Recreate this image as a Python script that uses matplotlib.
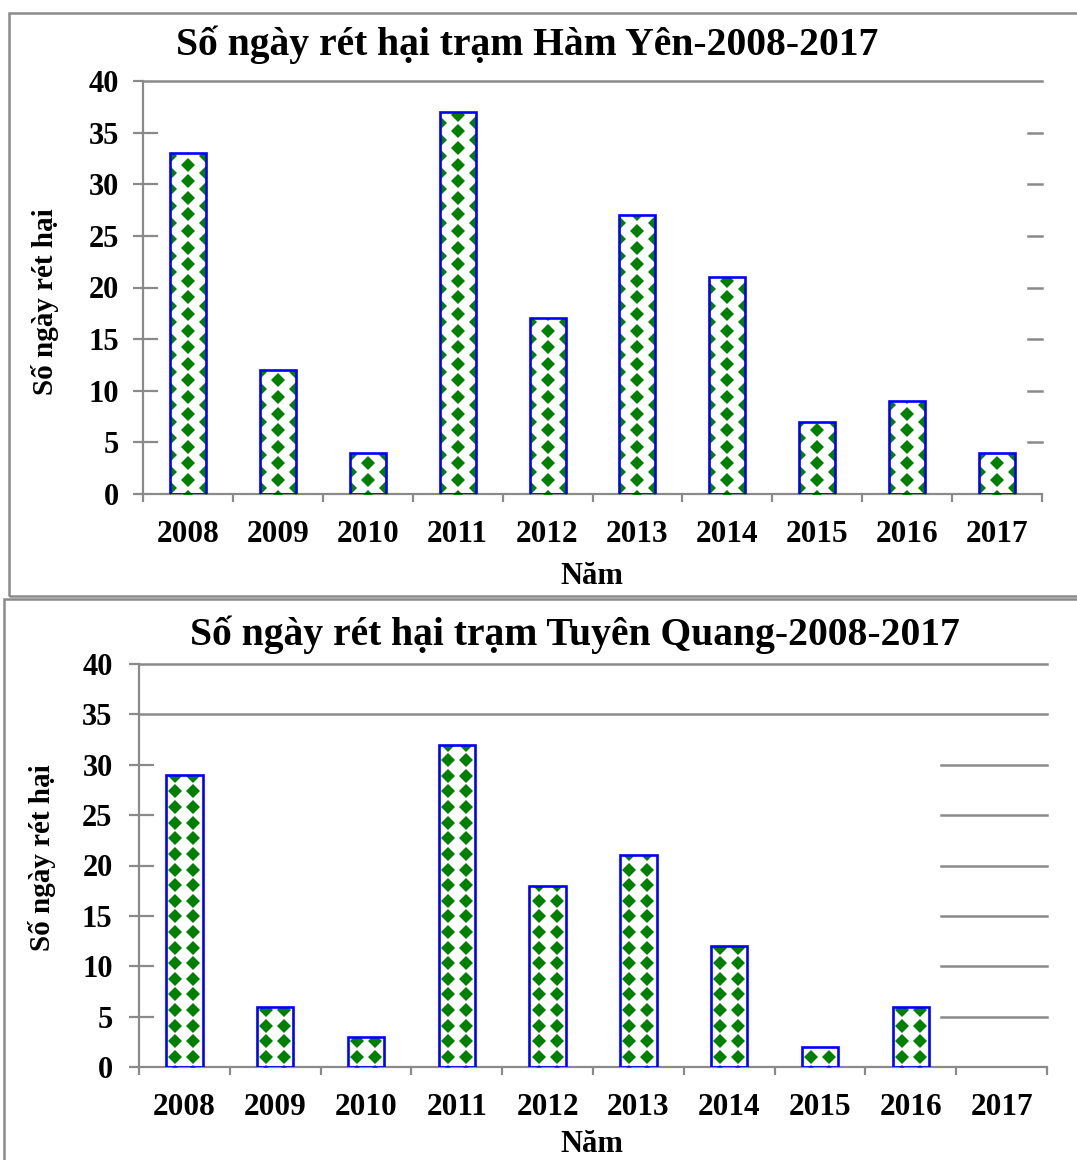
import matplotlib
matplotlib.use("Agg")
import matplotlib.pyplot as plt
import matplotlib.transforms as mtransforms
from matplotlib.patches import Rectangle
import numpy as np

plt.rcParams['font.family'] = ['Liberation Serif', 'DejaVu Serif']
plt.rcParams['font.weight'] = 'bold'

years = ['2008', '2009', '2010', '2011', '2012', '2013', '2014', '2015', '2016', '2017']
ham_yen = [33, 12, 4, 37, 17, 27, 21, 7, 9, 4]
tuyen_quang = [29, 6, 3, 32, 18, 21, 12, 2, 6, 0]
y_ticks = [0, 5, 10, 15, 20, 25, 30, 35, 40]

title_top = 'Số ngày rét hại trạm Hàm Yên-2008-2017'
title_bottom = 'Số ngày rét hại trạm Tuyên Quang-2008-2017'
y_label = 'Số ngày rét hại'
x_label = 'Năm'

W, H = 1077, 1160
DPI = 100
fig = plt.figure(figsize=(W / DPI, H / DPI), dpi=DPI)

GRAY = '#8a8a8a'
GREEN = '#008000'
BLUE = '#0000ff'


def px_axes(left, top, right, bottom):
    return fig.add_axes([left / W, (H - bottom) / H, (right - left) / W, (bottom - top) / H])


def diamond_fill(ax, bars, cols_a, cols_b, step_y, offset_a, offset_b, size):
    """Fill each bar with rows of green diamonds (offsets in pixels from the bar centre / base)."""
    fig.canvas.draw()
    inv = ax.transData.inverted()
    for bar in bars:
        h = bar.get_height()
        if h <= 0:
            continue
        x0, y0 = ax.transData.transform((bar.get_x(), 0))
        x1, y1 = ax.transData.transform((bar.get_x() + bar.get_width(), h))
        xc = (x0 + x1) / 2
        pts = []
        for cols, off in ((cols_a, offset_a), (cols_b, offset_b)):
            yy = y0 + off - step_y
            while yy <= y1 + step_y:
                for dx in cols:
                    pts.append((xc + dx, yy))
                yy += step_y
        data_pts = inv.transform(np.array(pts))
        ln, = ax.plot(data_pts[:, 0], data_pts[:, 1], linestyle='none', marker='D',
                      markersize=size, markerfacecolor=GREEN, markeredgewidth=0, zorder=3)
        ln.set_clip_path(bar)


def draw_chart(ax, values, title, full_from, partial_start, title_xy, ylabel_xy, xlabel_xy, label_pad):
    ax.set_xlim(-0.5, len(years) - 0.5)
    ax.set_ylim(0, 40)
    for s in ['top', 'right']:
        ax.spines[s].set_visible(False)
    for s in ['left', 'bottom']:
        ax.spines[s].set_color(GRAY)
        ax.spines[s].set_linewidth(1.6)

    # white bar bodies (pattern goes on these) and blue outlines drawn on top
    bars = ax.bar(range(len(years)), values, width=0.4, color='white',
                  edgecolor='none', linewidth=0, zorder=2)
    outlines = ax.bar(range(len(years)), values, width=0.4, fill=False,
                      edgecolor=BLUE, linewidth=1.9, zorder=4)
    for v, rect in zip(values, outlines):
        if v == 0:
            rect.set_linewidth(0)

    # horizontal rules: full lines at the top levels, short pieces elsewhere
    blend = mtransforms.blended_transform_factory(ax.transAxes, ax.transData)
    ax_w = ax.get_position().width * W
    stub = 14 / ax_w
    for v in y_ticks[1:]:
        if v >= full_from:
            ax.plot([0, 1], [v, v], transform=blend, color=GRAY, lw=1.8, zorder=1, clip_on=False)
        else:
            ax.plot([0, stub], [v, v], transform=blend, color=GRAY, lw=1.6, zorder=1, clip_on=False)
            ax.plot([partial_start, 1], [v, v], transform=blend, color=GRAY, lw=1.8, zorder=1, clip_on=False)

    ax.set_yticks(y_ticks)
    ax.set_yticklabels([str(v) for v in y_ticks], fontsize=22, fontweight='bold')
    ax.tick_params(axis='y', direction='out', length=7, width=1.6, color=GRAY, pad=label_pad)

    ax.set_xticks(range(len(years)))
    ax.set_xticklabels(years, fontsize=22.5, fontweight='bold')
    ax.set_xticks(np.arange(-0.5, len(years)), minor=True)
    ax.tick_params(axis='x', which='major', length=0, pad=19)
    ax.tick_params(axis='x', which='minor', direction='out', length=5.5, width=1.6, color=GRAY)

    fig.text(title_xy[0] / W, 1 - title_xy[1] / H, title, fontsize=28.5, fontweight='bold',
             ha='center', va='center')
    fig.text(ylabel_xy[0] / W, 1 - ylabel_xy[1] / H, y_label, fontsize=21, fontweight='bold',
             rotation=90, ha='center', va='center')
    fig.text(xlabel_xy[0] / W, 1 - xlabel_xy[1] / H, x_label, fontsize=22, fontweight='bold',
             ha='center', va='center')
    return bars


# chart frames
fig.patches.append(Rectangle((9 / W, 1 - 596 / H), (W + 20) / W, (596 - 13) / H,
                             transform=fig.transFigure, fill=False, edgecolor=GRAY, lw=1.8))
fig.patches.append(Rectangle((4 / W, -20 / H), (W + 20) / W, (H - 599 + 20) / H,
                             transform=fig.transFigure, fill=False, edgecolor=GRAY, lw=1.8))

ax1 = px_axes(143, 81, 1042, 494)
bars1 = draw_chart(ax1, ham_yen, title_top, full_from=40, partial_start=(1028 - 143) / (1042 - 143),
                   title_xy=(527, 45), ylabel_xy=(45, 302), xlabel_xy=(592, 576), label_pad=10)

ax2 = px_axes(139, 664, 1047, 1067)
bars2 = draw_chart(ax2, tuyen_quang, title_bottom, full_from=35, partial_start=(941 - 139) / (1047 - 139),
                   title_xy=(575, 635), ylabel_xy=(42, 858), xlabel_xy=(592, 1145), label_pad=12)

diamond_fill(ax1, bars1, cols_a=[0], cols_b=[-18, 18], step_y=16.6, offset_a=14, offset_b=5.7, size=7.6)
diamond_fill(ax2, bars2, cols_a=[-9, 9], cols_b=[], step_y=15.6, offset_a=10.3, offset_b=0, size=7.2)

fig.savefig('out.png', dpi=DPI)
